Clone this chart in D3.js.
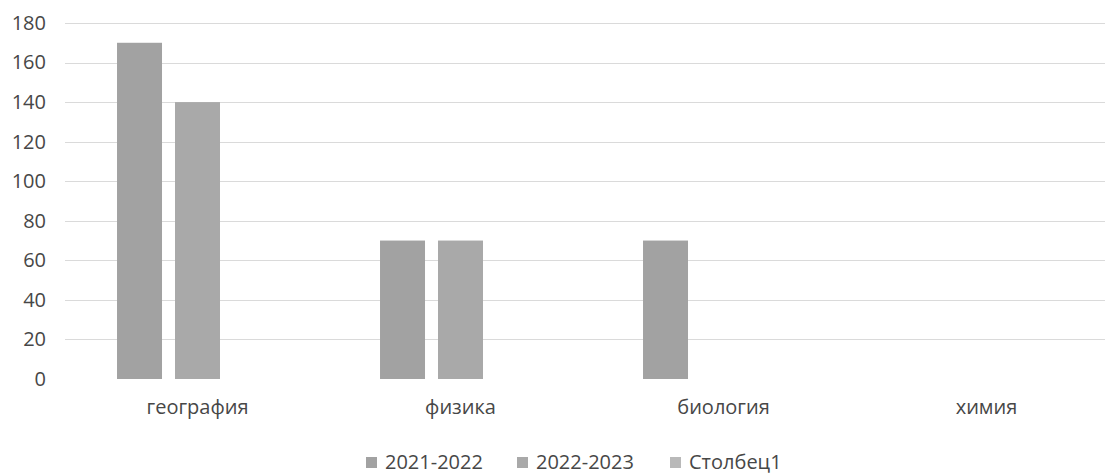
<!DOCTYPE html>
<html>
<head>
<meta charset="utf-8">
<script src="https://cdn.jsdelivr.net/npm/d3@7"></script>
<style>
  html, body { margin: 0; padding: 0; background: #ffffff; }
  svg { display: block; }
  text { font-family: "Open Sans", "Noto Sans", sans-serif; fill: #474747; }
</style>
</head>
<body>
<svg id="chart" width="1105" height="475"></svg>
<script>
const categories = ["география", "физика", "биология", "химия"];
const seriesNames = ["2021-2022", "2022-2023", "Столбец1"];
const series2021 = [170, 70, 70, null];
const series2022 = [140, 70, null, null];
const seriesCol1 = [null, null, null, null];
const yTicks = [0, 20, 40, 60, 80, 100, 120, 140, 160, 180];

const seriesValues = [series2021, series2022, seriesCol1];
const colors = ["#a2a2a2", "#a9a9a9", "#b9b9b9"];

const svg = d3.select("#chart");
const W = 1105, H = 475;
const FS = "20px";

const y = d3.scaleLinear().domain([0, 180]).range([379, 23]);
const x = d3.scaleBand().domain(categories).range([66, 1118])
  .paddingInner(0.388).paddingOuter(0.194);
const xs = d3.scaleBand().domain(seriesNames).range([0, x.bandwidth()])
  .paddingInner(0.224).paddingOuter(0);

// gridlines
svg.append("g").selectAll("line").data(yTicks.filter(d => d > 0)).join("line")
  .attr("x1", 65).attr("x2", W)
  .attr("y1", d => Math.round(y(d)) + 0.5).attr("y2", d => Math.round(y(d)) + 0.5)
  .attr("stroke", "#dadada").attr("stroke-width", 1);

// y axis labels
const yAxis = d3.axisLeft(y).tickValues(yTicks).tickSize(0).tickPadding(0);
const gy = svg.append("g").attr("transform", "translate(46,0)").call(yAxis);
gy.select(".domain").remove();
gy.selectAll("text").style("font-size", FS).attr("fill", "#474747")
  .style("font-family", "'Open Sans', sans-serif");

// bars
const barData = [];
seriesNames.forEach((s, si) => {
  categories.forEach((c, ci) => {
    const v = seriesValues[si][ci];
    if (v !== null && v !== undefined) barData.push({ s, si, c, v });
  });
});
svg.append("g").selectAll("rect").data(barData).join("rect")
  .attr("x", d => x(d.c) + xs(d.s))
  .attr("width", xs.bandwidth())
  .attr("y", d => y(d.v))
  .attr("height", d => y(0) - y(d.v))
  .attr("fill", d => colors[d.si]);

// x axis labels
const xAxis = d3.axisBottom(x).tickSize(0).tickPadding(0);
const gx = svg.append("g").attr("transform", "translate(0,400)").call(xAxis);
gx.select(".domain").remove();
gx.selectAll("text").style("font-size", FS).attr("fill", "#474747")
  .style("font-family", "'Open Sans', sans-serif");

// legend
const legendX = [366, 517, 670];
const lg = svg.append("g");
seriesNames.forEach((s, i) => {
  lg.append("rect").attr("x", legendX[i]).attr("y", 457).attr("width", 11).attr("height", 11)
    .attr("fill", colors[i]);
  lg.append("text").attr("x", legendX[i] + 19).attr("y", 469)
    .style("font-size", FS).text(s);
});
</script>
</body>
</html>
